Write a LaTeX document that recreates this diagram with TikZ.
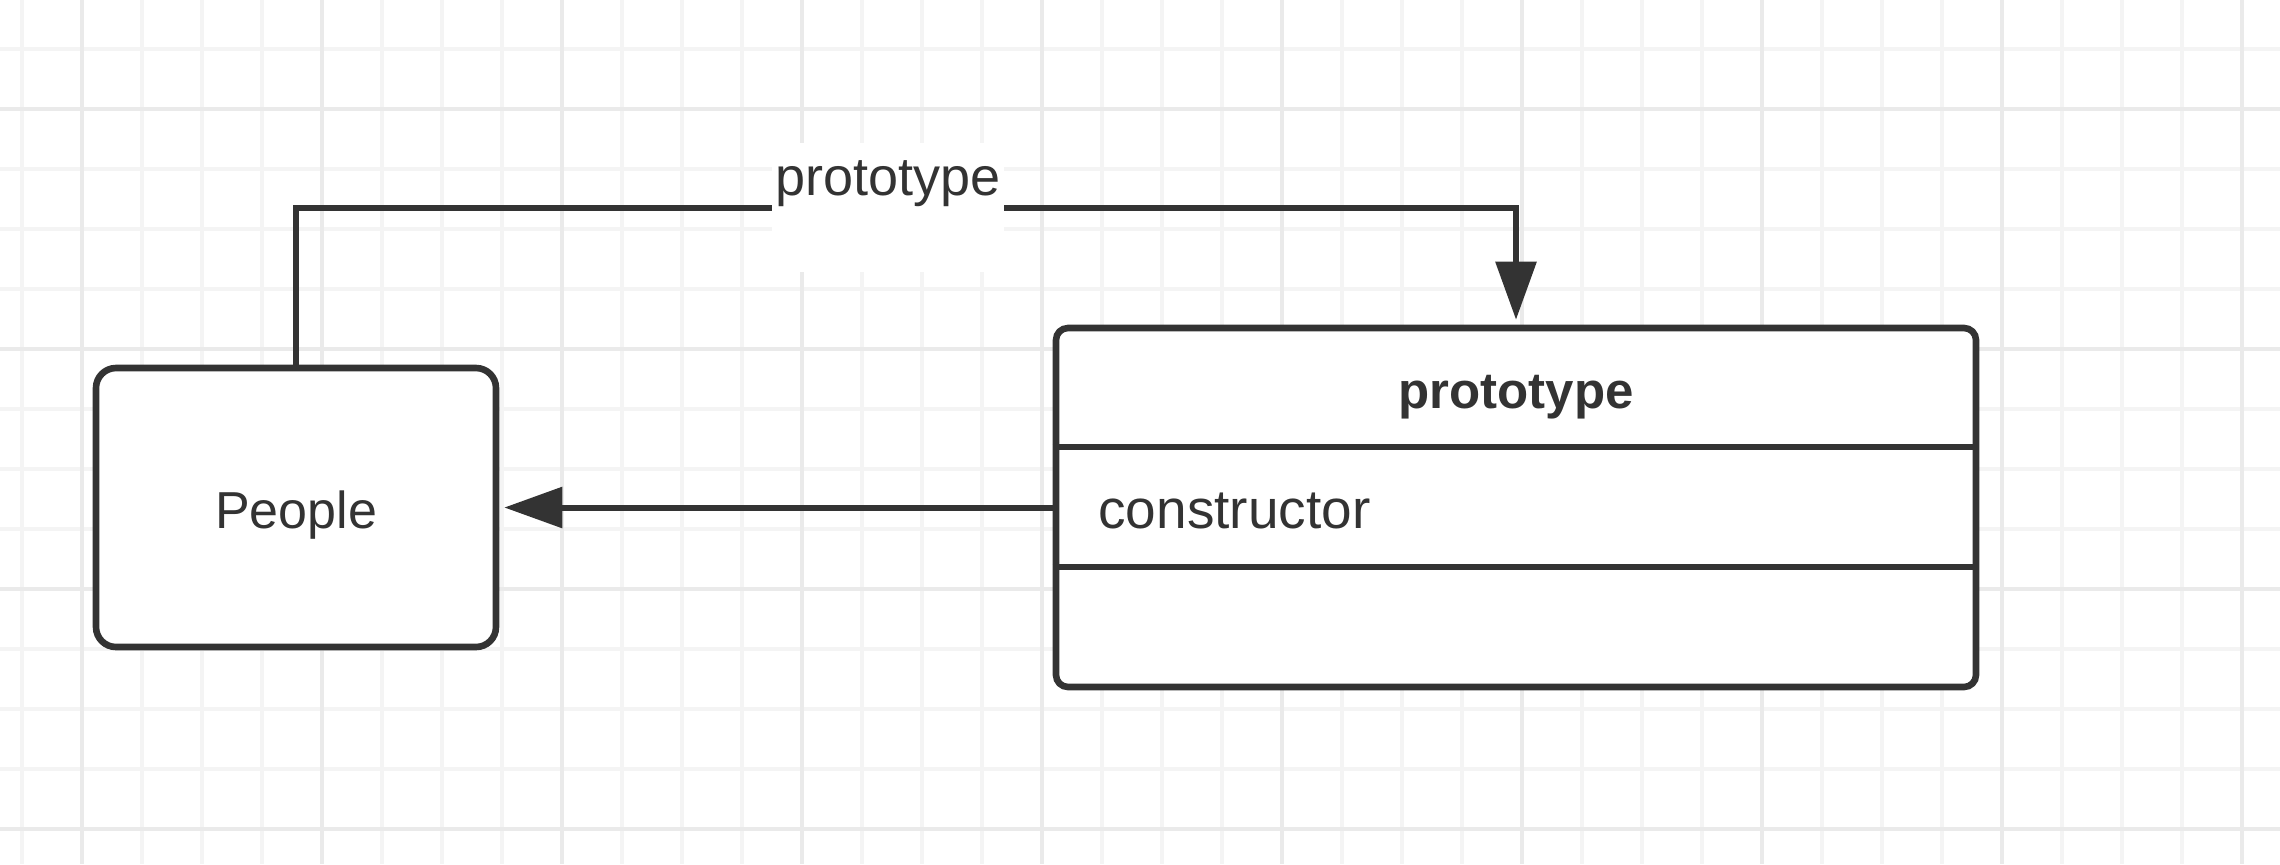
\documentclass[tikz,border=0pt]{standalone}
\usepackage{fontspec}
\setmainfont{Liberation Sans}
\usetikzlibrary{arrows.meta}
\definecolor{ink}{HTML}{333333}
\definecolor{gridminor}{HTML}{F4F4F4}
\definecolor{gridmajor}{HTML}{EAEAEA}
\begin{document}
\begin{tikzpicture}[x=0.5pt,y=-0.5pt,
  box/.style={draw=ink, line width=3.3pt, fill=white, inner sep=0pt},
  conn/.style={draw=ink, line width=3pt, line join=miter},
  tipend/.style={-{Triangle[length=29pt,width=20pt]}, shorten >=2.5pt},
  txt/.style={text=ink, inner sep=0pt, font=\fontsize{26}{31}\selectfont},
  gminor/.style={draw=gridminor, line width=1.8pt},
  gmajor/.style={draw=gridmajor, line width=1.8pt}
]
\fill[white] (0,0) rectangle (2280,864);
\useasboundingbox (0,0) rectangle (2280,864);
% grid
\foreach \x in {22,82,...,2242} \draw[gminor] (\x,0) -- (\x,864);
\foreach \y in {49,109,...,829} \draw[gminor] (0,\y) -- (2280,\y);
\foreach \x in {82,322,...,2242} \draw[gmajor] (\x,0) -- (\x,864);
\foreach \y in {109,349,589,829} \draw[gmajor] (0,\y) -- (2280,\y);

% People box
\node[box, rounded corners=10pt, minimum width=200pt, minimum height=139.5pt,
      txt, text height=20.5pt, text depth=0pt] (people) at (296,507.5) {People};

% prototype class box
\node[box, rounded corners=6pt, minimum width=460pt, minimum height=179.5pt] (proto) at (1516,507.5) {};
\coordinate (d1) at (0,447);
\coordinate (d2) at (0,567);
\draw[ink, line width=3.3pt] (proto.west |- d1) -- (proto.east |- d1);
\draw[ink, line width=3.3pt] (proto.west |- d2) -- (proto.east |- d2);
\node[txt, font=\bfseries\fontsize{25.5}{30}\selectfont, anchor=base] (title) at (1516,408) {prototype};
\node[txt, font=\fontsize{27.5}{33}\selectfont, anchor=base west] (ctor) at (1098,528) {constructor};

% connectors
\coordinate (c1) at (296,208);
\coordinate (c2) at (1516,208);
\draw[conn, tipend] (people.north) -- (c1) -- (c2) -- (proto.north);
\draw[conn, tipend] (proto.west) -- (people.east);

% edge label with its white background
\node[txt, fill=white, font=\fontsize{27}{32}\selectfont, minimum width=116pt,
      text height=26pt, text depth=38.5pt, anchor=north] (lbl) at (888,143) {prototype};
\end{tikzpicture}
\end{document}
